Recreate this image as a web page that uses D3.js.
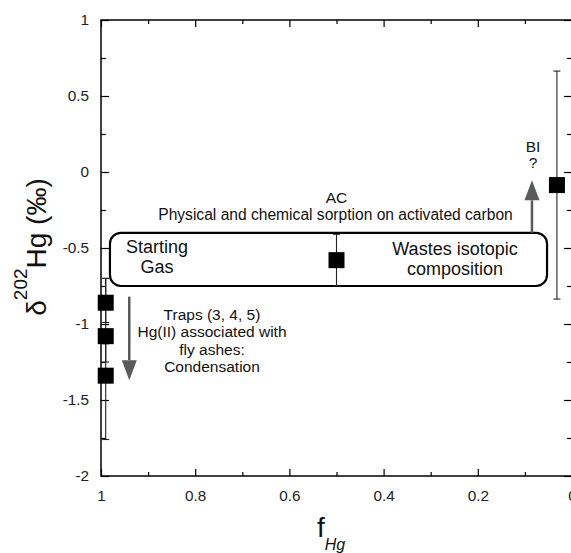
<!DOCTYPE html>
<html><head><meta charset="utf-8">
<script src="https://cdn.jsdelivr.net/npm/d3@7"></script>
<style>
body{margin:0;background:#fff;}
svg{font-family:"Liberation Sans",Arial,sans-serif;}
</style></head><body>
<svg id="c" width="571" height="553"></svg>
<script>
// ---- data ----
const pointsX = [0.99, 0.99, 0.99, 0.5, 0.032];
const pointsY = [-0.86, -1.08, -1.34, -0.58, -0.086];
const errLow  = [-0.99, -1.25, -1.76, -0.75, -0.836];
const errHigh = [-0.70, -0.70, -1.13, -0.41, 0.664];
const xTicks = [1, 0.8, 0.6, 0.4, 0.2, 0];
const xTickLabels = ["1", "0.8", "0.6", "0.4", "0.2", "0"];
const yTicks = [1, 0.5, 0, -0.5, -1, -1.5, -2];
const yTickLabels = ["1", "0.5", "0", "-0.5", "-1", "-1.5", "-2"];
const xMinor = [0.9, 0.7, 0.5, 0.3, 0.1];
const yMinor = [0.75, 0.25, -0.25, -0.75, -1.25, -1.75];
const boxX = [0.981, 0.053];
const boxY = [-0.40, -0.75];
const arrowDown = {x: 0.94, y0: -0.82, y1: -1.37};
const arrowUp = {x: 0.085, y0: -0.40, y1: -0.055};

(function(){
const svg = d3.select("#c");
const x = d3.scaleLinear().domain([1, 0]).range([101, 572]);
const y = d3.scaleLinear().domain([-2, 1]).range([476, 20]);
const pL = 101, pR = 572, pT = 20, pB = 476;

const g = svg.append("g");
function styleAxis(sel){
  sel.selectAll(".domain").remove();
  sel.selectAll(".tick line").attr("stroke","#000").attr("stroke-width",1.2);
  sel.selectAll(".tick text").attr("fill","#222").style("font-size","15.3px").style("font-family",'"Liberation Sans",Arial,sans-serif');
}
const la = g.append("g").attr("transform",`translate(${pL},0)`)
  .call(d3.axisLeft(y).tickValues(yTicks).tickFormat((d,i)=>yTickLabels[i]).tickSize(-8).tickPadding(12));
styleAxis(la);
const lm = g.append("g").attr("transform",`translate(${pL},0)`)
  .call(d3.axisLeft(y).tickValues(yMinor).tickFormat("").tickSize(-5));
styleAxis(lm);
const ra = g.append("g").attr("transform",`translate(${pR},0)`)
  .call(d3.axisRight(y).tickValues(yTicks).tickFormat("").tickSize(-8));
styleAxis(ra);
const rm = g.append("g").attr("transform",`translate(${pR},0)`)
  .call(d3.axisRight(y).tickValues(yMinor).tickFormat("").tickSize(-5));
styleAxis(rm);
const ba = g.append("g").attr("transform",`translate(0,${pB})`)
  .call(d3.axisBottom(x).tickValues(xTicks).tickFormat((d,i)=>xTickLabels[i]).tickSize(-7).tickPadding(14));
styleAxis(ba);
const bm = g.append("g").attr("transform",`translate(0,${pB})`)
  .call(d3.axisBottom(x).tickValues(xMinor).tickFormat("").tickSize(-4));
styleAxis(bm);
const ta = g.append("g").attr("transform",`translate(0,${pT})`)
  .call(d3.axisTop(x).tickValues(xTicks).tickFormat("").tickSize(-7));
styleAxis(ta);
const tm = g.append("g").attr("transform",`translate(0,${pT})`)
  .call(d3.axisTop(x).tickValues(xMinor).tickFormat("").tickSize(-4));
styleAxis(tm);
g.append("rect").attr("x",pL).attr("y",pT).attr("width",pR-pL).attr("height",pB-pT)
  .attr("fill","none").attr("stroke","#000").attr("stroke-width",1.5);

// box
svg.append("rect")
  .attr("x", x(boxX[0])).attr("y", y(boxY[0]))
  .attr("width", x(boxX[1]) - x(boxX[0])).attr("height", y(boxY[1]) - y(boxY[0]))
  .attr("rx", 11).attr("ry", 11)
  .attr("fill","none").attr("stroke","#000").attr("stroke-width",2.2);

// arrows
const arrowCol = "#595a5c";
function arrow(a, dir){
  const xs = x(a.x), ys0 = y(a.y0), ys1 = y(a.y1);
  const headLen = 20, headW = 7.5;
  const yBase = ys1 - dir*headLen;
  svg.append("line").attr("x1",xs).attr("x2",xs).attr("y1",ys0).attr("y2",yBase)
    .attr("stroke",arrowCol).attr("stroke-width",2.5);
  svg.append("path").attr("d",`M${xs-headW},${yBase}L${xs+headW},${yBase}L${xs},${ys1}Z`).attr("fill",arrowCol);
}
arrow(arrowDown, 1);
arrow(arrowUp, -1);

// error bars
const eb = svg.append("g").attr("stroke","#222").attr("stroke-width",1.1);
pointsX.forEach((px,i)=>{
  const xs = x(px);
  eb.append("line").attr("x1",xs).attr("x2",xs).attr("y1",y(errLow[i])).attr("y2",y(errHigh[i]));
  [errLow[i], errHigh[i]].forEach(v=>{
    eb.append("line").attr("x1",xs-3.5).attr("x2",xs+3.5).attr("y1",y(v)).attr("y2",y(v));
  });
});
// points
svg.append("g").selectAll("rect").data(pointsX).join("rect")
  .attr("x",(d)=>x(d)-8).attr("y",(d,i)=>y(pointsY[i])-8)
  .attr("width",16).attr("height",16).attr("fill","#000");

// texts
function txt(xp, yp, s, size, anchor){
  return svg.append("text").attr("x",xp).attr("y",yp).attr("text-anchor",anchor||"middle")
    .style("font-size",size+"px").attr("fill","#111").text(s);
}
txt(x(0.5), 203, "AC", 15.5);
txt(x(0.5)-1, 220, "Physical and chemical sorption on activated carbon", 15.6);
txt(533, 152, "BI", 15.5);
txt(533, 168, "?", 15.5);
txt(157, 253, "Starting", 18);
txt(157, 273, "Gas", 18);
txt(455, 255, "Wastes isotopic", 18);
txt(455, 275, "composition", 18);
["Traps (3, 4, 5)", "Hg(II) associated with", "fly ashes:", "Condensation"].forEach((s,i)=>{
  txt(212, 320 + i*17.4, s, 15.5);
});

// axis titles
const yt = svg.append("text").attr("transform","translate(46,247) rotate(-90)")
  .attr("text-anchor","middle").style("font-size","28px").attr("fill","#111");
yt.append("tspan").text("δ");
yt.append("tspan").attr("dy",-19).style("font-size","19px").text("202");
yt.append("tspan").attr("dy",19).text("Hg (‰)");

const xt = svg.append("text").attr("x",317).attr("y",537).style("font-size","28px").attr("fill","#111");
xt.append("tspan").text("f");
xt.append("tspan").attr("dy",13).style("font-size","16px").style("font-style","italic").text("Hg");
})();
</script>
</body></html>
